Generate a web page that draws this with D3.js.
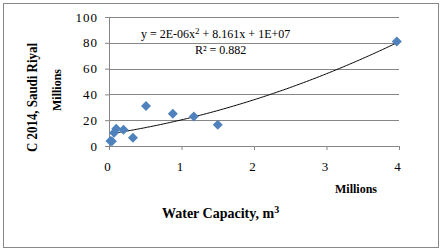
<!DOCTYPE html>
<html>
<head>
<meta charset="utf-8">
<script src="https://cdn.jsdelivr.net/npm/d3@7"></script>
<style>
  body { margin: 0; background: #fff; }
  text { font-family: "Liberation Serif", "Times New Roman", serif; fill: #000; }
</style>
</head>
<body>
<div id="chart"></div>
<script>
// water capacity (millions m3) vs cost 2014 (millions SAR)
var capacity = [0.02, 0.04, 0.07, 0.10, 0.20, 0.33, 0.51, 0.88, 1.17, 1.50, 3.97];
var cost = [3.8, 3.6, 10.2, 13.3, 12.5, 6.3, 31.0, 25.0, 22.8, 16.5, 81.0];
var xTicks = [0, 1, 2, 3, 4];
var yTicks = [0, 20, 40, 60, 80, 100];

var W = 442, H = 251;
var margin = {top: 17, right: 43, bottom: 105, left: 109},
    width = 399 - margin.left,
    height = 146 - margin.top;

var svg = d3.select("#chart").append("svg")
    .attr("width", W)
    .attr("height", H);

// chart border
svg.append("rect")
    .attr("x", 3.5).attr("y", 3.5)
    .attr("width", 435).attr("height", 244)
    .attr("fill", "none")
    .attr("stroke", "#888");

var g = svg.append("g")
    .attr("transform", "translate(" + margin.left + "," + margin.top + ")");

var x = d3.scaleLinear().domain([0, 4]).range([0, width]);
var y = d3.scaleLinear().domain([0, 100]).range([height, 0]);

// gridlines
g.selectAll(".grid")
    .data(yTicks.slice(1))
    .enter().append("line")
    .attr("x1", 0).attr("x2", width)
    .attr("y1", function(d) { return Math.round(y(d)) + 0.5; })
    .attr("y2", function(d) { return Math.round(y(d)) + 0.5; })
    .attr("stroke", "#868686");

// y axis
var yAxis = g.append("g")
    .call(d3.axisLeft(y).tickValues(yTicks).tickSize(4).tickPadding(7));
yAxis.selectAll("text").style("font-size", "13px").style("letter-spacing", "1px");

// x axis
var xAxis = g.append("g")
    .attr("transform", "translate(0," + height + ")")
    .call(d3.axisBottom(x).tickValues(xTicks).tickFormat(d3.format("d")).tickSize(4).tickPadding(12));
xAxis.selectAll("text").style("font-size", "13px").attr("dx", "-2");

g.selectAll(".tick text").style("font-family", "'Liberation Serif', serif");
g.selectAll(".domain, .tick line").attr("stroke", "#868686");
yAxis.select(".domain").attr("d", "M0.5," + height + "V0");
xAxis.select(".domain").attr("d", "M0,0.5H" + width);

// quadratic least squares trendline
function polyFit(xs, ys) {
  var s = [0, 0, 0, 0, 0], t = [0, 0, 0];
  xs.forEach(function(xv, i) {
    for (var k = 0; k < 5; k++) s[k] += Math.pow(xv, k);
    for (var k = 0; k < 3; k++) t[k] += ys[i] * Math.pow(xv, k);
  });
  var A = [[s[0], s[1], s[2], t[0]], [s[1], s[2], s[3], t[1]], [s[2], s[3], s[4], t[2]]];
  for (var i = 0; i < 3; i++) {
    for (var j = i + 1; j < 3; j++) {
      var f = A[j][i] / A[i][i];
      for (var k = i; k < 4; k++) A[j][k] -= f * A[i][k];
    }
  }
  var c = [0, 0, 0];
  for (var i = 2; i >= 0; i--) {
    var v = A[i][3];
    for (var k = i + 1; k < 3; k++) v -= A[i][k] * c[k];
    c[i] = v / A[i][i];
  }
  return c;
}
var coef = polyFit(capacity, cost);
var xs = d3.range(0, 201).map(function(i) {
  return d3.min(capacity) + (d3.max(capacity) - d3.min(capacity)) * i / 200;
});
g.append("path")
    .datum(xs)
    .attr("fill", "none")
    .attr("stroke", "#000")
    .attr("stroke-width", 1)
    .attr("d", d3.line()
        .x(function(d) { return x(d); })
        .y(function(d) { return y(coef[0] + coef[1] * d + coef[2] * d * d); }));

// points
var pts = d3.range(capacity.length);
g.selectAll(".pt")
    .data(pts)
    .enter().append("path")
    .attr("d", d3.symbol(d3.symbolSquare, 50))
    .attr("transform", function(i) {
      return "translate(" + x(capacity[i]) + "," + y(cost[i]) + ") rotate(45)";
    })
    .attr("fill", "#4F81BD");

// equation
svg.append("text")
    .attr("x", 141).attr("y", 38)
    .style("font-size", "12px")
    .html("y = 2E-06x<tspan dy='-4' font-size='9px'>2</tspan><tspan dy='4'> + 8.161x + 1E+07</tspan>");
svg.append("text")
    .attr("x", 195).attr("y", 54)
    .style("font-size", "12px")
    .html("R² = 0.882");

// axis titles
svg.append("text")
    .attr("x", 162).attr("y", 218)
    .style("font-size", "14px").style("font-weight", "bold")
    .html("Water Capacity, m<tspan dy='-5' font-size='10px'>3</tspan>");
svg.append("text")
    .attr("x", 335).attr("y", 193)
    .style("font-size", "12px").style("font-weight", "bold")
    .text("Millions");
svg.append("text")
    .attr("transform", "translate(37,97.5) rotate(-90)")
    .attr("text-anchor", "middle")
    .attr("textLength", 109)
    .attr("lengthAdjust", "spacingAndGlyphs")
    .style("font-size", "15px").style("font-weight", "bold")
    .text("C 2014, Saudi Riyal");
svg.append("text")
    .attr("transform", "translate(61,90) rotate(-90)")
    .attr("text-anchor", "middle")
    .style("font-size", "12px").style("font-weight", "bold")
    .text("Millions");
</script>
</body>
</html>
